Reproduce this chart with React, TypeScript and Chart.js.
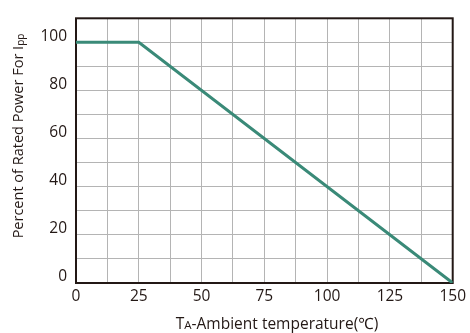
import React, { useEffect, useRef } from "react";
import { Chart, registerables } from "chart.js";

Chart.register(...registerables);

const temperatures = [0, 25, 150];
const ratedPower = [100, 100, 0];
const xTickLabels = [0, 25, 50, 75, 100, 125, 150];
const yTickLabels = [0, 20, 40, 60, 80, 100];

const FONT = "'Open Sans', 'Noto Sans', sans-serif";

const titlePlugin = {
  id: "titles",
  beforeDatasetsDraw(chart: any) {
    const { ctx, chartArea } = chart;
    ctx.save();
    ctx.strokeStyle = "#231815";
    ctx.lineWidth = 2;
    ctx.strokeRect(chartArea.left, chartArea.top, chartArea.right - chartArea.left, chartArea.bottom - chartArea.top);
    ctx.restore();
  },
  afterDraw(chart: any) {
    const { ctx } = chart;
    ctx.save();
    ctx.fillStyle = "#231815";
    ctx.textBaseline = "alphabetic";
    // Y title
    const yMain = "Percent of Rated Power For I";
    const ySub = "pp";
    ctx.font = `14.5px ${FONT}`;
    const w1 = ctx.measureText(yMain).width;
    ctx.font = `10px ${FONT}`;
    const w2 = ctx.measureText(ySub).width;
    const total = w1 + w2;
    ctx.translate(23, 136);
    ctx.rotate(-Math.PI / 2);
    ctx.textAlign = "left";
    ctx.font = `14.5px ${FONT}`;
    ctx.fillText(yMain, -total / 2, 0);
    ctx.font = `10px ${FONT}`;
    ctx.fillText(ySub, -total / 2 + w1, 1);
    ctx.restore();

    ctx.save();
    ctx.fillStyle = "#231815";
    ctx.textAlign = "left";
    const a = "T";
    const b = "A";
    const c = "-Ambient temperature(℃)";
    ctx.font = `15.5px ${FONT}`;
    const wa = ctx.measureText(a).width;
    const wc = ctx.measureText(c).width;
    ctx.font = `11.5px ${FONT}`;
    const wb = ctx.measureText(b).width;
    const tw = wa + wb + wc;
    const x0 = 277 - tw / 2;
    const y0 = 329;
    ctx.font = `15.5px ${FONT}`;
    ctx.fillText(a, x0, y0);
    ctx.font = `11.5px ${FONT}`;
    ctx.fillText(b, x0 + wa, y0);
    ctx.font = `15.5px ${FONT}`;
    ctx.fillText(c, x0 + wa + wb, y0);
    ctx.restore();
  },
};

export default function App() {
  const ref = useRef<HTMLCanvasElement | null>(null);
  useEffect(() => {
    document.body.style.margin = "0";
    const chart = new Chart(ref.current as HTMLCanvasElement, {
      type: "scatter",
      data: {
        datasets: [
          {
            data: temperatures.map((t, i) => ({ x: t, y: ratedPower[i] })),
            showLine: true,
            borderColor: "#3a8a78",
            borderWidth: 3,
            pointRadius: 0,
            borderJoinStyle: "miter",
            fill: false,
          },
        ],
      },
      options: {
        animation: false,
        responsive: false,
        maintainAspectRatio: false,
        layout: { padding: { top: 11, right: 16, left: 0, bottom: 0 } },
        plugins: { legend: { display: false }, tooltip: { enabled: false } },
        scales: {
          x: {
            type: "linear",
            min: 0,
            max: 150,
            afterFit(scale: any) {
              scale.height = 50;
            },
            afterBuildTicks(scale: any) {
              const t = [];
              for (let v = 0; v <= 150; v += 12.5) t.push({ value: v });
              scale.ticks = t;
            },
            ticks: {
              autoSkip: false,
              maxRotation: 0,
              padding: 4,
              color: "#231815",
              font: { family: FONT, size: 15.5 },
              callback: (v: any) => (xTickLabels.includes(Number(v)) ? String(v) : ""),
            },
            grid: { color: "#b4b4b4", lineWidth: 1, drawTicks: false },
            border: { display: false },
          },
          y: {
            type: "linear",
            min: 0,
            max: 110,
            afterFit(scale: any) {
              scale.width = 76;
            },
            afterBuildTicks(scale: any) {
              const t = [];
              for (let v = 0; v <= 110; v += 10) t.push({ value: v });
              scale.ticks = t;
            },
            ticks: {
              autoSkip: false,
              padding: 9,
              labelOffset: -6,
              color: "#231815",
              font: { family: FONT, size: 15.5 },
              callback: (v: any) => (yTickLabels.includes(Number(v)) ? String(v) : ""),
            },
            grid: { color: "#b4b4b4", lineWidth: 1, drawTicks: false },
            border: { display: false },
          },
        },
      },
      plugins: [titlePlugin],
    } as any);
    return () => chart.destroy();
  }, []);
  return (
    <div style={{ position: "absolute", left: 0, top: 0, width: 470, height: 333, background: "#fff" }}>
      <canvas ref={ref} width={470} height={333} />
    </div>
  );
}
